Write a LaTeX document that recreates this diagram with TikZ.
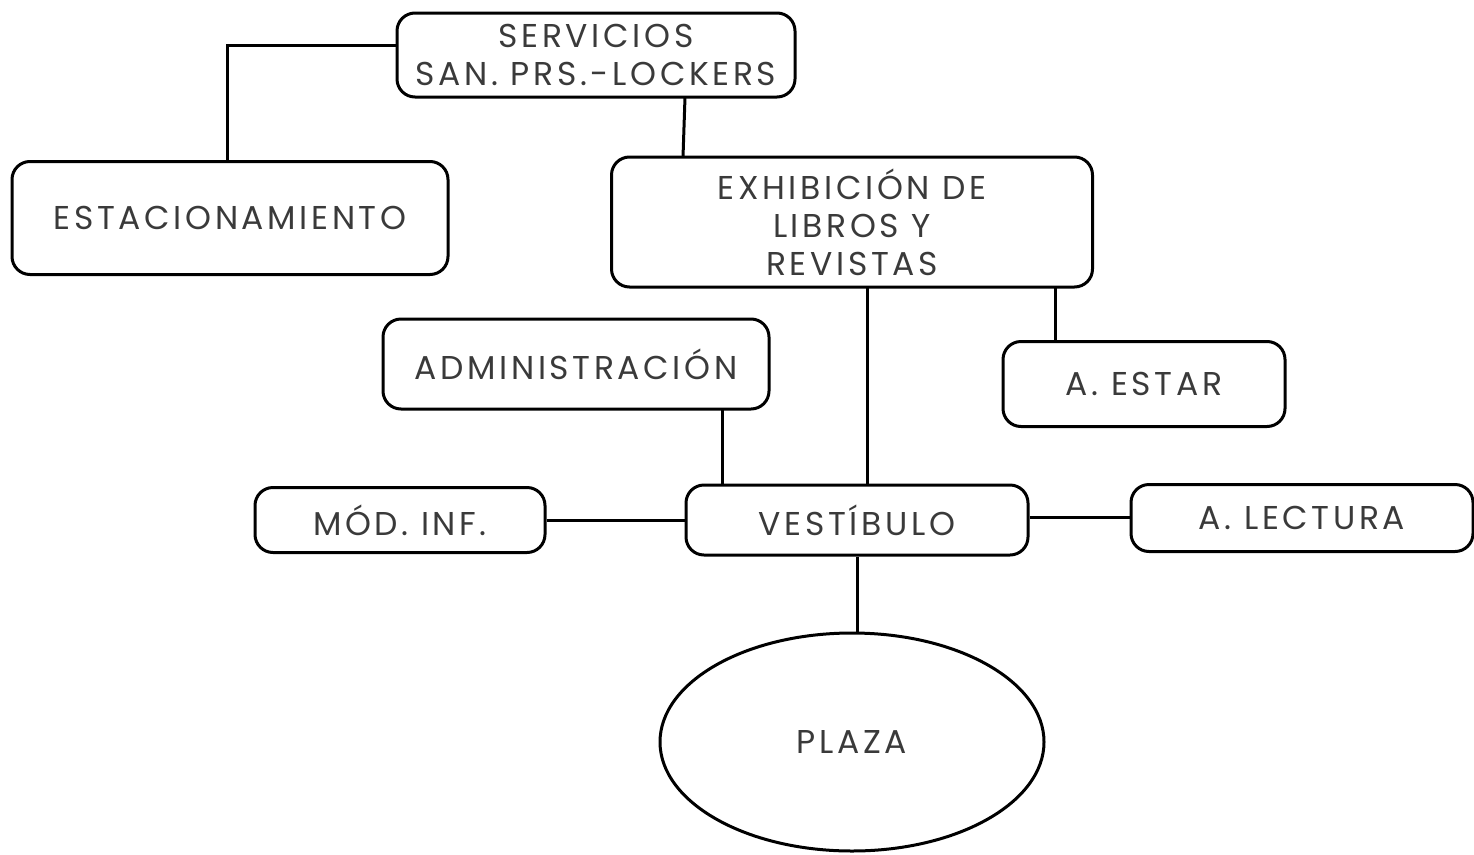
\documentclass[tikz,border=0pt]{standalone}
\usepackage{fontspec}
\setmainfont{Poppins}[LetterSpace=11]
\usetikzlibrary{shapes.geometric}
\definecolor{txt}{HTML}{3A3A3A}
\tikzset{
  box/.style={draw=black, line width=3pt, rounded corners=18pt, inner sep=0pt, align=center, text=txt, font=\fontsize{33}{38}\selectfont},
  link/.style={draw=black, line width=3pt},
}
\begin{document}
\begin{tikzpicture}[x=1pt,y=-1pt]
\useasboundingbox (0,0) rectangle (1474,854);
\node[box, minimum width=398pt, minimum height=84pt] (serv) at (596,55) {SERVICIOS\\SAN. PRS.-LOCKERS};
\node[box, minimum width=436pt, minimum height=113pt] (estac) at (230,218) {ESTACIONAMIENTO};
\node[box, minimum width=481pt, minimum height=130pt] (exhib) at (852,222) {EXHIBICIÓN DE\\LIBROS Y\\REVISTAS};
\node[box, minimum width=386pt, minimum height=90pt] (admin) at (576,364) {ADMINISTRACIÓN};
\node[box, minimum width=282pt, minimum height=85pt] (estar) at (1144,384) {A. ESTAR};
\node[box, minimum width=290pt, minimum height=65pt] (mod) at (400,520) {MÓD. INF.};
\node[box, minimum width=342pt, minimum height=70pt] (vest) at (857,520) {VESTÍBULO};
\node[box, minimum width=342pt, minimum height=67pt] (lect) at (1302,518) {A. LECTURA};
\node[draw=black, line width=3pt, ellipse, minimum width=384pt, minimum height=218pt, inner sep=0pt, text=txt, font=\fontsize{33}{38}\selectfont] (plaza) at (852,742) {PLAZA};
\coordinate (c1) at (227,45);
\draw[link] (serv.west |- c1) -- (c1) -- (c1 |- estac.north);
\draw[link] (685,97) -- (683,157);
\draw[link] (867,287) -- (867,485);
\draw[link] (1055,287) -- (1055,342);
\draw[link] (722,409) -- (722,485);
\draw[link] (mod.east) -- (vest.west);
\draw[link] (vest.east |- 0,517) -- (lect.west |- 0,517);
\draw[link] (vest.south -| 857,0) -- (plaza.north -| 857,0);
\end{tikzpicture}
\end{document}
